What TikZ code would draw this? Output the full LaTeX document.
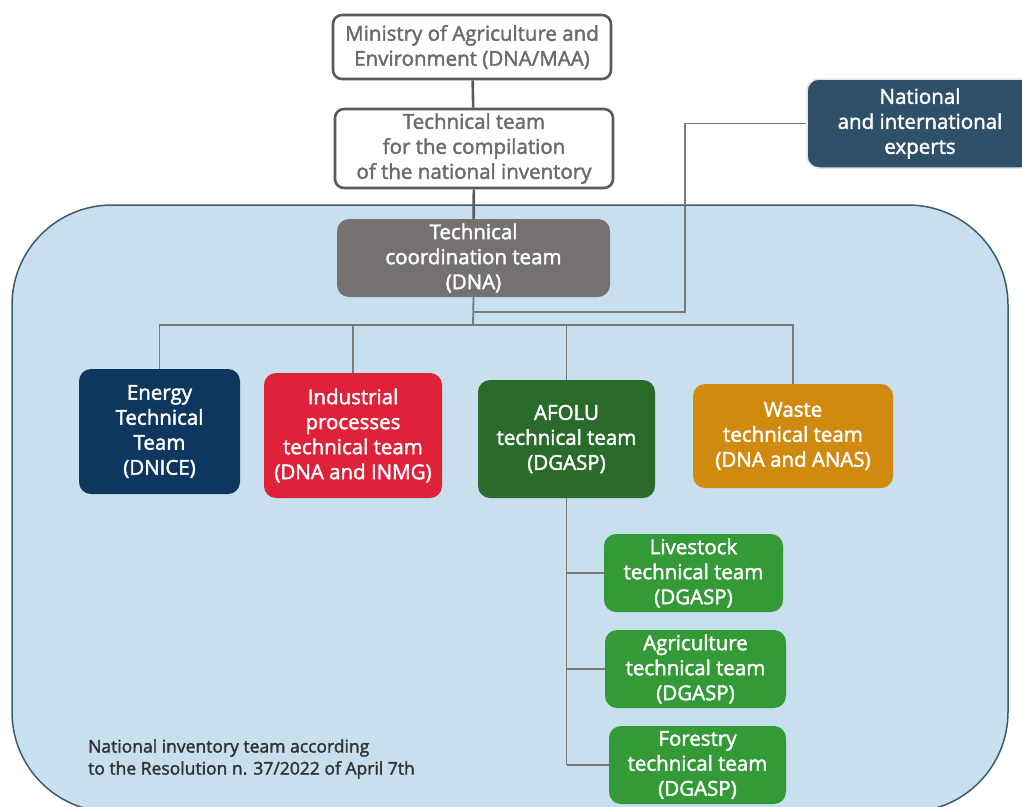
\documentclass[tikz,border=0pt]{standalone}
\usepackage{fontspec}
\setmainfont{Open Sans}
\newfontfamily\medfont{Open Sans}[FakeBold=2]
\usepackage{tikz}
\usetikzlibrary{positioning}
\usepackage{xcolor}

\definecolor{regionfill}{HTML}{C8DFEE}
\definecolor{regionline}{HTML}{3D5A73}
\definecolor{topline}{HTML}{5A5A5A}
\definecolor{toptext}{HTML}{6B6B6B}
\definecolor{coordfill}{HTML}{767171}
\definecolor{expertfill}{HTML}{2E5069}
\definecolor{energyfill}{HTML}{0D375F}
\definecolor{industryfill}{HTML}{E0213A}
\definecolor{afolufill}{HTML}{2A6B2C}
\definecolor{wastefill}{HTML}{D08A10}
\definecolor{subfill}{HTML}{349A37}
\definecolor{linkgray}{HTML}{7A7A7A}

\begin{document}
\begin{tikzpicture}[x=1pt, y=-1pt,
    topbox/.style={draw=topline, line width=2.6pt, fill=white, rounded corners=9pt,
        text=toptext, align=center, inner sep=0pt},
    teambox/.style={rounded corners=12pt, text=white, align=center, inner sep=0pt},
    link/.style={draw=linkgray, line width=1.8pt},
    toplink/.style={draw=topline, line width=2.6pt}]
    \useasboundingbox (0,0) rectangle (1022,806);
    \begin{scope}
        \clip (0,0) rectangle (1022,806);
        % Background region
        \draw[regionline, line width=1.5pt, fill=regionfill, rounded corners=100pt]
            (12,205) rectangle (1008,812);

        \begin{scope}[font=\medfont\fontsize{20.5}{25}\selectfont]
            % Top boxes
            \node[topbox, minimum width=278, minimum height=64] (ministry) at (472,47)
                {Ministry of Agriculture and\\Environment (DNA/MAA)};
            \node[topbox, minimum width=278, minimum height=79] (compile) at (474,148.5)
                {Technical team\\for the compilation\\of the national inventory};
            \node[teambox, fill=coordfill, minimum width=273, minimum height=78] (coord) at (473.5,258)
                {Technical\\coordination team\\(DNA)};
            \node[teambox, fill=expertfill, draw=white!80!gray, line width=1.5pt,
                minimum width=226, minimum height=89] (experts) at (920,123.5)
                {National\\and international\\experts};

            % Sector teams
            \node[teambox, fill=energyfill, minimum width=161, minimum height=125] (energy) at (159.5,431.5)
                {Energy\\Technical\\Team\\(DNICE)};
            \node[teambox, fill=industryfill, minimum width=178, minimum height=125] (industry) at (353,435.5)
                {Industrial\\processes\\technical team\\(DNA and INMG)};
            \node[teambox, fill=afolufill, minimum width=177, minimum height=118] (afolu) at (566.5,439)
                {AFOLU\\technical team\\(DGASP)};
            \node[teambox, fill=wastefill, minimum width=200, minimum height=104] (waste) at (793,436)
                {Waste\\technical team\\(DNA and ANAS)};

            % AFOLU sub-teams
            \node[teambox, fill=subfill, minimum width=179, minimum height=78] (livestock) at (693.5,573)
                {Livestock\\technical team\\(DGASP)};
            \node[teambox, fill=subfill, minimum width=181, minimum height=78] (agri) at (695.5,669)
                {Agriculture\\technical team\\(DGASP)};
            \node[teambox, fill=subfill, minimum width=177, minimum height=78] (forest) at (697.5,765)
                {Forestry\\technical team\\(DGASP)};
        \end{scope}

        \node[anchor=west, align=left, inner sep=0pt, text=black!80,
            font=\medfont\fontsize{17.5}{22}\selectfont] (note) at (88,759)
            {National inventory team according\\to the Resolution n. 37/2022 of April 7th};

        % Connectors
        \draw[toplink] (ministry) -- (compile);
        \draw[toplink] (compile) -- (coord);
        \coordinate (bus) at (473,325);
        \coordinate (join) at (473,312);
        \coordinate (elbow) at (685,312);
        \draw[link] (coord.south) -- (bus);
        \draw[link] (experts.west) -| (elbow) -- (join);
        \foreach \team in {energy, industry, afolu, waste}
            \draw[link] (bus) -| (\team.north);
        \draw[link] (afolu.south) -- (afolu.south |- forest.west);
        \foreach \sub in {livestock, agri, forest}
            \draw[link] (afolu.south |- \sub.west) -- (\sub.west);
    \end{scope}
\end{tikzpicture}
\end{document}
